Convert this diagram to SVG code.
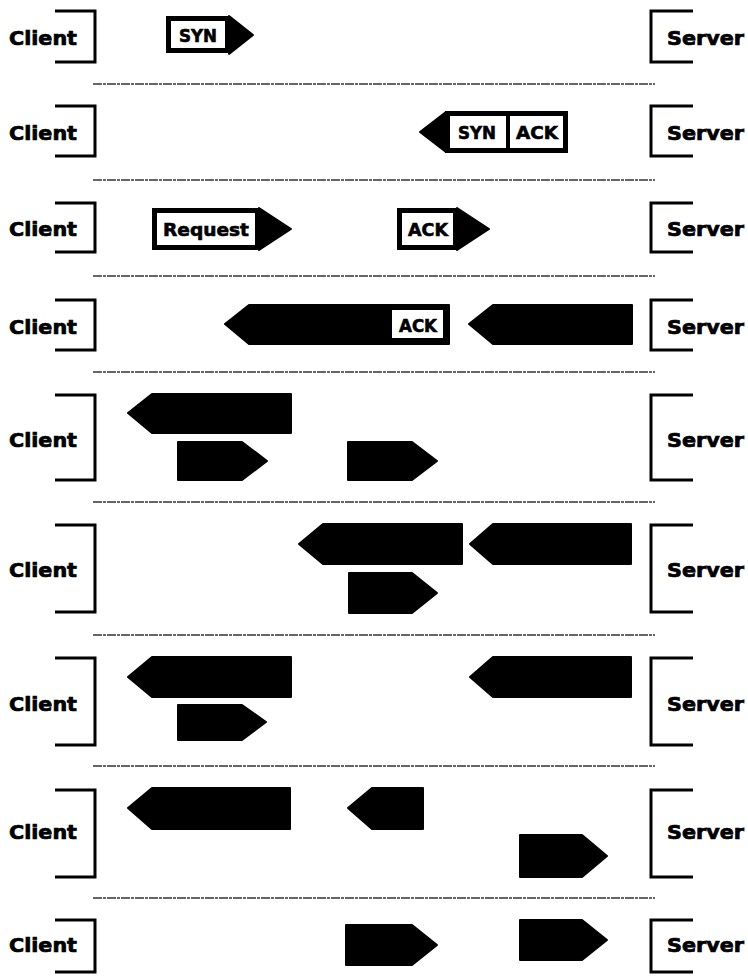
<svg xmlns="http://www.w3.org/2000/svg" width="748" height="978" viewBox="0 0 748 978">
<style>
.lbl{font-family:"DejaVu Sans","Liberation Sans",sans-serif;font-weight:bold;font-size:19px;fill:#000;stroke:#000;stroke-width:0.7}
.pl{font-family:"DejaVu Sans","Liberation Sans",sans-serif;font-weight:bold;font-size:17px;fill:#000;stroke:#000;stroke-width:0.6;text-anchor:middle}
.br{fill:none;stroke:#000;stroke-width:3}
.sep{stroke:#333;stroke-width:1.3;stroke-dasharray:9 1 3 1}
.box{fill:#fff;stroke:#000;stroke-width:5}
.blk{fill:#000;stroke:#000;stroke-width:2;stroke-linejoin:round}
</style>
<rect width="748" height="978" fill="#fff"/>
<g id="separators">
<line class="sep" x1="93" y1="84" x2="655" y2="84"/>
<line class="sep" x1="93" y1="180" x2="655" y2="180"/>
<line class="sep" x1="93" y1="276" x2="655" y2="276"/>
<line class="sep" x1="93" y1="372" x2="655" y2="372"/>
<line class="sep" x1="93" y1="502" x2="655" y2="502"/>
<line class="sep" x1="93" y1="635" x2="655" y2="635"/>
<line class="sep" x1="93" y1="766" x2="655" y2="766"/>
<line class="sep" x1="93" y1="898" x2="655" y2="898"/>
</g>
<g id="clients">
<g id="client1"><path class="br" d="M55,11H95V62H55"/><text class="lbl" x="9" y="45" textLength="68" lengthAdjust="spacingAndGlyphs">Client</text></g>
<g id="client2"><path class="br" d="M55,106H95V156H55"/><text class="lbl" x="9" y="140" textLength="68" lengthAdjust="spacingAndGlyphs">Client</text></g>
<g id="client3"><path class="br" d="M55,203H95V252H55"/><text class="lbl" x="9" y="236" textLength="68" lengthAdjust="spacingAndGlyphs">Client</text></g>
<g id="client4"><path class="br" d="M55,300H95V350H55"/><text class="lbl" x="9" y="334" textLength="68" lengthAdjust="spacingAndGlyphs">Client</text></g>
<g id="client5"><path class="br" d="M55,395H95V480H55"/><text class="lbl" x="9" y="447" textLength="68" lengthAdjust="spacingAndGlyphs">Client</text></g>
<g id="client6"><path class="br" d="M55,525H95V612H55"/><text class="lbl" x="9" y="577" textLength="68" lengthAdjust="spacingAndGlyphs">Client</text></g>
<g id="client7"><path class="br" d="M55,658H95V745H55"/><text class="lbl" x="9" y="711" textLength="68" lengthAdjust="spacingAndGlyphs">Client</text></g>
<g id="client8"><path class="br" d="M55,790H95V877H55"/><text class="lbl" x="9" y="839" textLength="68" lengthAdjust="spacingAndGlyphs">Client</text></g>
<g id="client9"><path class="br" d="M55,920H95V972H55"/><text class="lbl" x="9" y="952" textLength="68" lengthAdjust="spacingAndGlyphs">Client</text></g>
</g>
<g id="servers">
<g id="server1"><path class="br" d="M693,11H651V62H693"/><text class="lbl" x="667" y="45" textLength="77" lengthAdjust="spacingAndGlyphs">Server</text></g>
<g id="server2"><path class="br" d="M693,106H651V156H693"/><text class="lbl" x="667" y="140" textLength="77" lengthAdjust="spacingAndGlyphs">Server</text></g>
<g id="server3"><path class="br" d="M693,203H651V252H693"/><text class="lbl" x="667" y="236" textLength="77" lengthAdjust="spacingAndGlyphs">Server</text></g>
<g id="server4"><path class="br" d="M693,300H651V350H693"/><text class="lbl" x="667" y="334" textLength="77" lengthAdjust="spacingAndGlyphs">Server</text></g>
<g id="server5"><path class="br" d="M693,395H651V480H693"/><text class="lbl" x="667" y="447" textLength="77" lengthAdjust="spacingAndGlyphs">Server</text></g>
<g id="server6"><path class="br" d="M693,525H651V612H693"/><text class="lbl" x="667" y="577" textLength="77" lengthAdjust="spacingAndGlyphs">Server</text></g>
<g id="server7"><path class="br" d="M693,658H651V745H693"/><text class="lbl" x="667" y="711" textLength="77" lengthAdjust="spacingAndGlyphs">Server</text></g>
<g id="server8"><path class="br" d="M693,790H651V877H693"/><text class="lbl" x="667" y="839" textLength="77" lengthAdjust="spacingAndGlyphs">Server</text></g>
<g id="server9"><path class="br" d="M693,920H651V972H693"/><text class="lbl" x="667" y="952" textLength="77" lengthAdjust="spacingAndGlyphs">Server</text></g>
</g>
<g id="packets">
<g id="r1-syn"><rect class="box" x="168.5" y="18.5" width="59" height="32"/><polygon class="blk" points="229,16 253,35 229,54"/><text class="pl" x="198" y="42" textLength="38" lengthAdjust="spacingAndGlyphs">SYN</text></g>
<g id="r2-synack"><rect class="box" x="447.5" y="113.5" width="118" height="37"/><line x1="508" y1="113" x2="508" y2="151" stroke="#000" stroke-width="4"/><polygon class="blk" points="446,112 420,132 446,152"/><text class="pl" x="477" y="139" textLength="38" lengthAdjust="spacingAndGlyphs">SYN</text><text class="pl" x="537" y="139" textLength="42" lengthAdjust="spacingAndGlyphs">ACK</text></g>
<g id="r3-request"><rect class="box" x="154.5" y="210.5" width="103" height="37"/><polygon class="blk" points="259,208 291,229 259,250"/><text class="pl" x="206" y="236" textLength="86" lengthAdjust="spacingAndGlyphs">Request</text></g>
<g id="r3-ack"><rect class="box" x="399.5" y="210.5" width="56" height="37"/><polygon class="blk" points="457,208 489,229 457,250"/><text class="pl" x="428" y="236" textLength="40" lengthAdjust="spacingAndGlyphs">ACK</text></g>
<g id="r4-data"><polygon class="blk" points="225,324 249,305 449,305 449,344 249,344"/><rect x="392" y="310" width="51" height="28" fill="#fff"/><text class="pl" x="418" y="332" textLength="38" lengthAdjust="spacingAndGlyphs">ACK</text></g>
<g id="r4-data2"><polygon class="blk" points="469,324 493,305 632,305 632,344 493,344"/></g>
<g id="r5-data"><polygon class="blk" points="128,413 152,394 291,394 291,433 152,433"/></g>
<g id="r5-ack1"><polygon class="blk" points="178,442 242,442 267,461 242,480 178,480"/></g>
<g id="r5-ack2"><polygon class="blk" points="348,442 412,442 437,461 412,480 348,480"/></g>
<g id="r6-data1"><polygon class="blk" points="299,544 323,524 462,524 462,564 323,564"/></g>
<g id="r6-data2"><polygon class="blk" points="470,544 493,524 631,524 631,564 493,564"/></g>
<g id="r6-ack"><polygon class="blk" points="349,573 412,573 437,593 412,613 349,613"/></g>
<g id="r7-data1"><polygon class="blk" points="128,677 152,657 291,657 291,697 152,697"/></g>
<g id="r7-data2"><polygon class="blk" points="470,677 493,657 631,657 631,697 493,697"/></g>
<g id="r7-ack"><polygon class="blk" points="178,705 242,705 266,722 242,740 178,740"/></g>
<g id="r8-data"><polygon class="blk" points="128,808 152,788 290,788 290,829 152,829"/></g>
<g id="r8-small"><polygon class="blk" points="348,808 372,788 423,788 423,829 372,829"/></g>
<g id="r8-ack"><polygon class="blk" points="520,835 582,835 607,856 582,877 520,877"/></g>
<g id="r9-ack1"><polygon class="blk" points="346,925 412,925 437,945 412,965 346,965"/></g>
<g id="r9-ack2"><polygon class="blk" points="520,920 582,920 607,940 582,960 520,960"/></g>
</g>
</svg>
